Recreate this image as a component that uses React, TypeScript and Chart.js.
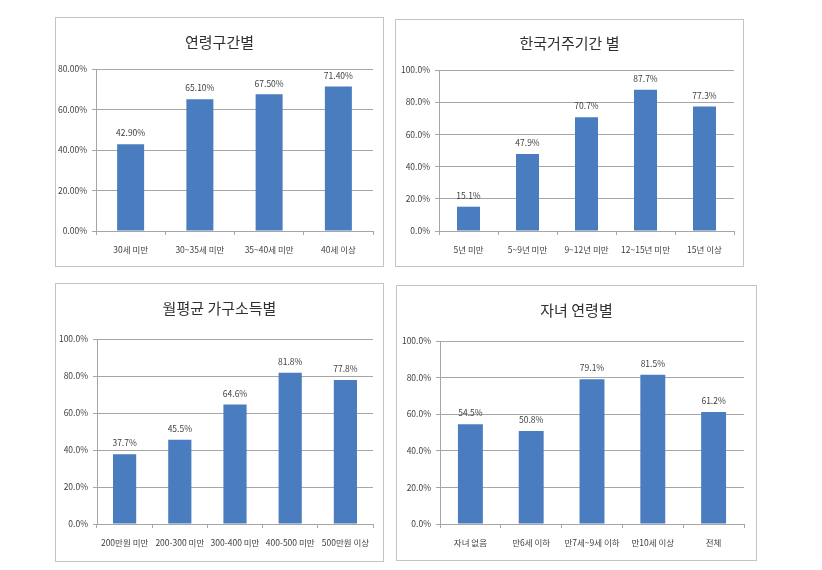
import React, { useEffect, useRef } from "react";
import { Chart, registerables } from "chart.js";

Chart.register(...registerables);

// ---------- data ----------
const ageCategories = ["30세 미만", "30~35세 미만", "35~40세 미만", "40세 이상"];
const ageValues = [42.9, 65.1, 67.5, 71.4];

const stayCategories = ["5년 미만", "5~9년 미만", "9~12년 미만", "12~15년 미만", "15년 이상"];
const stayValues = [15.1, 47.9, 70.7, 87.7, 77.3];

const incomeCategories = ["200만원 미만", "200-300 미만", "300-400 미만", "400-500 미만", "500만원 이상"];
const incomeValues = [37.7, 45.5, 64.6, 81.8, 77.8];

const childCategories = ["자녀 없음", "만6세 이하", "만7세~9세 이하", "만10세 이상", "전체"];
const childValues = [54.5, 50.8, 79.1, 81.5, 61.2];

const titles = ["연령구간별", "한국거주기간 별", "월평균 가구소득별", "자녀 연령별"];
const yMaxes = [80, 100, 100, 100];
const decimals = [2, 1, 1, 1];

// ---------- layout / style ----------
const FONT = '"Noto Sans CJK KR", "Noto Sans", sans-serif';
const BAR = "#4a7dbf";
const GRID = "#a6a6a6";
const TEXT = "#404040";

type Panel = {
  x: number; y: number; w: number; h: number;
  plotLeft: number; plotRight: number; plotTop: number; plotBottom: number;
  titleY: number; barPct: number;
};

const panels: Panel[] = [
  { x: 55, y: 17, w: 329, h: 250, plotLeft: 40, plotRight: 317, plotTop: 51, plotBottom: 213, titleY: 24, barPct: 0.39 },
  { x: 395, y: 19, w: 349, h: 248, plotLeft: 43, plotRight: 338, plotTop: 50, plotBottom: 211, titleY: 23, barPct: 0.39 },
  { x: 55, y: 283, w: 329, h: 279, plotLeft: 41, plotRight: 317, plotTop: 55, plotBottom: 240, titleY: 24, barPct: 0.42 },
  { x: 396, y: 285, w: 361, h: 276, plotLeft: 43, plotRight: 347, plotTop: 55, plotBottom: 238, titleY: 24, barPct: 0.41 },
];

const seriesList = [
  { cats: ageCategories, vals: ageValues },
  { cats: stayCategories, vals: stayValues },
  { cats: incomeCategories, vals: incomeValues },
  { cats: childCategories, vals: childValues },
];

function ChartPanel({ idx }: { idx: number }) {
  const ref = useRef<HTMLCanvasElement | null>(null);
  const p = panels[idx];
  const cw = p.w - 2;
  const ch = p.h - 2;
  useEffect(() => {
    if (!ref.current) return;
    const { cats, vals } = seriesList[idx];
    const dec = decimals[idx];
    const X_H = 30;
    const overlay = {
      id: "overlay" + idx,
      afterDatasetsDraw(chart: any) {
        const ctx = chart.ctx;
        ctx.save();
        // title
        ctx.fillStyle = "#303030";
        ctx.font = `15px ${FONT}`;
        ctx.textAlign = "center";
        ctx.textBaseline = "middle";
        ctx.fillText(titles[idx], chart.width / 2, p.titleY);
        // data labels
        ctx.font = `8.5px ${FONT}`;
        ctx.fillStyle = TEXT;
        const meta = chart.getDatasetMeta(0);
        meta.data.forEach((el: any, i: number) => {
          const v = chart.data.datasets[0].data[i] as number;
          ctx.fillText(v.toFixed(dec) + "%", el.x, el.y - 11);
        });
        ctx.restore();
      },
    };
    const chart = new Chart(ref.current, {
      type: "bar",
      data: {
        labels: cats,
        datasets: [
          {
            data: vals,
            backgroundColor: BAR,
            borderWidth: 0,
            barPercentage: p.barPct,
            categoryPercentage: 1,
          },
        ],
      },
      options: {
        animation: false,
        responsive: false,
        devicePixelRatio: 1,
        layout: {
          padding: {
            left: 0,
            top: p.plotTop,
            right: cw - p.plotRight,
            bottom: ch - p.plotBottom - X_H,
          },
        },
        plugins: {
          legend: { display: false },
          title: { display: false },
          tooltip: { enabled: false },
        },
        scales: {
          x: {
            offset: true,
            grid: {
              offset: true,
              drawOnChartArea: false,
              drawTicks: true,
              tickLength: 4,
              color: GRID,
            },
            border: { color: GRID, width: 1 },
            ticks: {
              color: TEXT,
              font: { family: FONT, size: 8.5 },
              padding: 10,
              maxRotation: 0,
              autoSkip: false,
            },
            afterFit(scale: any) {
              scale.height = X_H;
            },
          },
          y: {
            min: 0,
            max: yMaxes[idx],
            grid: { color: GRID, tickLength: 4, lineWidth: 1 },
            border: { color: GRID, width: 1 },
            ticks: {
              stepSize: 20,
              color: TEXT,
              font: { family: FONT, size: 8.5 },
              padding: 5,
              callback: (v: any) => Number(v).toFixed(dec) + "%",
            },
            afterFit(scale: any) {
              scale.width = p.plotLeft;
            },
          },
        },
      },
      plugins: [overlay],
    } as any);
    return () => chart.destroy();
  }, [idx]);
  return (
    <div
      style={{
        position: "absolute",
        left: p.x,
        top: p.y,
        width: p.w,
        height: p.h,
        boxSizing: "border-box",
        border: "1px solid #c4c4c4",
        background: "#fff",
      }}
    >
      <canvas ref={ref} width={cw} height={ch} style={{ display: "block", width: cw, height: ch }} />
    </div>
  );
}

export default function App() {
  return (
    <div
      style={{
        position: "fixed",
        left: 0,
        top: 0,
        width: 822,
        height: 570,
        background: "#fff",
        overflow: "hidden",
      }}
    >
      {panels.map((_, i) => (
        <ChartPanel key={i} idx={i} />
      ))}
    </div>
  );
}
